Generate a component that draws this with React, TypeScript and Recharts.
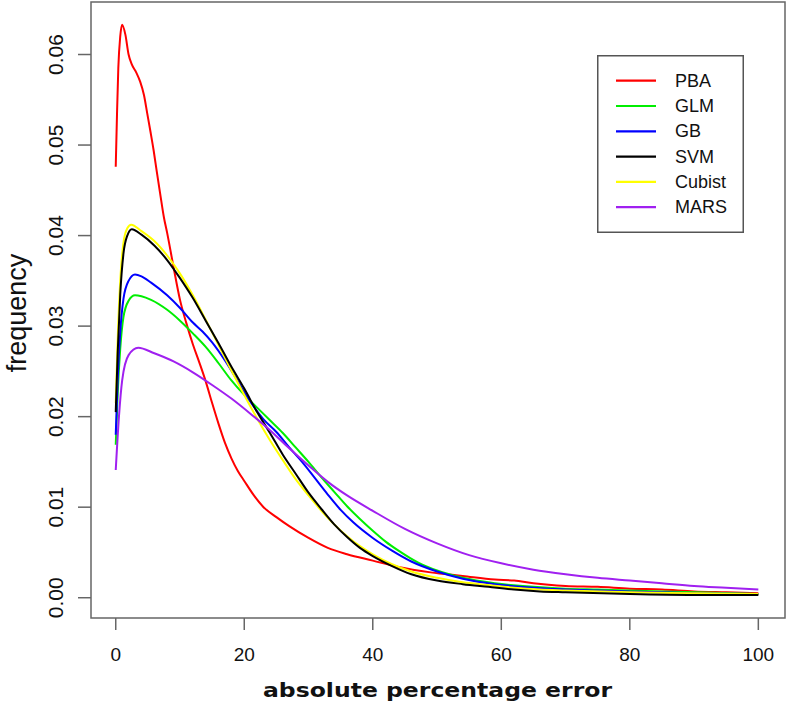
import { LineChart, Line, XAxis, YAxis, ReferenceArea, Legend } from 'recharts';

type Pt = [number, number];

// absolute percentage error (x) vs frequency (y)
const pba: Pt[] = [
  [0, 0.0476], [0.2, 0.0535], [0.4, 0.0585], [0.7, 0.062], [1, 0.0633], [1.5, 0.0622],
  [2, 0.06], [2.5, 0.0589], [3.2, 0.058], [3.8, 0.057], [4.4, 0.0555], [4.9, 0.0535],
  [5.4, 0.0515], [5.9, 0.0494], [6.4, 0.047], [6.9, 0.0447], [7.5, 0.042], [8, 0.0403],
  [9, 0.0365], [10, 0.0329], [11, 0.0303], [12, 0.028], [13, 0.026], [14, 0.0239],
  [15, 0.0215], [16, 0.0192], [17, 0.0171], [18, 0.0154], [19, 0.014], [20, 0.0129],
  [21.5, 0.0113], [23, 0.01], [25, 0.0089], [27, 0.0079], [30, 0.0066], [33, 0.0055],
  [36, 0.0048], [40, 0.0041], [44, 0.0034], [49, 0.0028], [54, 0.0024], [59, 0.002],
  [62, 0.0019], [65, 0.0016], [70, 0.0013], [75, 0.0012], [80, 0.001], [85, 0.0009],
  [90, 0.0007], [95, 0.0006], [100, 0.0005],
];

const glm: Pt[] = [
  [0, 0.0169], [0.3, 0.0225], [0.7, 0.0275], [1.2, 0.031], [2, 0.0328], [3, 0.0334],
  [4, 0.0333], [5.5, 0.0329], [8, 0.0318], [10, 0.0306], [12, 0.0292], [14, 0.0277],
  [16, 0.0259], [18, 0.024], [20, 0.0224], [22, 0.021], [24, 0.0196], [26, 0.0182],
  [28, 0.0166], [30, 0.015], [32, 0.0133], [34, 0.0117], [36, 0.0101], [38, 0.0087],
  [40, 0.0074], [42, 0.0062], [44, 0.0052], [47, 0.0039], [50, 0.003], [54, 0.0022],
  [59, 0.0016], [65, 0.0012], [70, 0.001], [75, 0.0009], [80, 0.0008], [90, 0.0006],
  [100, 0.0004],
];

const gb: Pt[] = [
  [0, 0.018], [0.3, 0.024], [0.7, 0.0293], [1.2, 0.033], [2, 0.035], [3, 0.0357],
  [4, 0.0355], [5.5, 0.0348], [8, 0.0334], [10, 0.032], [12, 0.0304], [13.5, 0.0294],
  [15, 0.0282], [17, 0.0262], [19, 0.0239], [21, 0.0216], [23, 0.0197], [25, 0.0183],
  [27, 0.0166], [29, 0.015], [31, 0.0132], [33, 0.0114], [35, 0.0097], [37, 0.0083],
  [40, 0.0066], [43, 0.0052], [46, 0.004], [50, 0.0029], [54, 0.0021], [59, 0.0015],
  [65, 0.0011], [70, 0.0009], [75, 0.0008], [80, 0.0007], [90, 0.0005], [100, 0.0004],
];

const svm: Pt[] = [
  [0, 0.0205], [0.3, 0.027], [0.7, 0.0335], [1.2, 0.038], [1.8, 0.04], [2.5, 0.0407],
  [4, 0.0401], [6, 0.0389], [8, 0.0373], [10, 0.0353], [12, 0.0331], [14, 0.0306],
  [16, 0.0281], [18, 0.0255], [20, 0.0231], [22, 0.0205], [24, 0.0182], [26, 0.0158],
  [28, 0.0137], [30, 0.0116], [32, 0.0098], [34, 0.0081], [36, 0.0067], [38, 0.0055],
  [40, 0.0046], [43, 0.0035], [46, 0.0026], [50, 0.0019], [54, 0.0015], [58, 0.0012],
  [62, 0.0009], [66, 0.0007], [70, 0.0006], [80, 0.0004], [90, 0.0003], [100, 0.0003],
];

const cubist: Pt[] = [
  [0, 0.0215], [0.3, 0.0285], [0.7, 0.035], [1.2, 0.0392], [1.8, 0.0408], [2.4, 0.0412],
  [4, 0.0405], [6, 0.0394], [8, 0.0378], [10, 0.0358], [12, 0.0334], [14, 0.0307],
  [16, 0.0279], [18, 0.0251], [20, 0.0224], [22, 0.0198], [24, 0.0174], [26, 0.0152],
  [28, 0.0131], [30, 0.0113], [32, 0.0096], [34, 0.0081], [36, 0.0068], [38, 0.0057],
  [40, 0.0048], [43, 0.0037], [46, 0.0029], [50, 0.0022], [54, 0.0017], [58, 0.0014],
  [62, 0.0011], [66, 0.0009], [70, 0.0008], [80, 0.0006], [90, 0.0005], [100, 0.0004],
];

const mars: Pt[] = [
  [0, 0.0141], [0.5, 0.02], [1, 0.024], [2, 0.0268], [3.5, 0.0276], [6, 0.027],
  [9, 0.0261], [12, 0.0249], [15, 0.0235], [18, 0.022], [21, 0.0203], [24, 0.0185],
  [27, 0.0165], [30, 0.0146], [33, 0.0128], [36, 0.0113], [40, 0.0096], [45, 0.0076],
  [50, 0.006], [55, 0.0047], [60, 0.0038], [65, 0.0031], [70, 0.0026], [75, 0.0022],
  [80, 0.0019], [85, 0.0016], [90, 0.0013], [95, 0.0011], [100, 0.0009],
];

const NAMES = ['PBA', 'GLM', 'GB', 'SVM', 'Cubist', 'MARS'];
const SERIES = [pba, glm, gb, svm, cubist, mars];
const COLORS = ['#FF0000', '#00EE00', '#0000FF', '#000000', '#FFFF00', '#A020F0'];
// yellow under black, as in the picture
const DRAW_ORDER = [0, 1, 2, 4, 3, 5];

const X_TICKS = [0, 20, 40, 60, 80, 100];
const Y_TICKS = [0, 0.01, 0.02, 0.03, 0.04, 0.05, 0.06];

const X_DOMAIN: [number, number] = [-3.85, 104.15];
const Y_DOMAIN: [number, number] = [-0.00224, 0.0658];

const FONT = '"Liberation Sans", Arial, sans-serif';
const AXIS_GRAY = '#666';

const YTick = ({ x, y, payload }: any) => {
  const bx = x - 13;
  return (
    <text
      x={bx}
      y={y}
      transform={`rotate(-90, ${bx}, ${y})`}
      textAnchor="middle"
      fontSize={21}
      fontFamily={FONT}
      fill="#111"
    >
      {Number(payload.value).toFixed(2)}
    </text>
  );
};

const LegendBox = () => (
  <svg width={147} height={178} style={{ display: 'block' }}>
    <rect x={0.75} y={0.75} width={145.5} height={176.5} fill="#fff" stroke="#555" strokeWidth={1.5} />
    {NAMES.map((name, i) => {
      const cy = 25.7 + i * 25.3;
      return (
        <g key={name}>
          <line x1={19} x2={59} y1={cy} y2={cy} stroke={COLORS[i]} strokeWidth={2.2} />
          <text x={78} y={cy} dominantBaseline="central" fontSize={18} fontFamily={FONT} fill="#111">
            {name}
          </text>
        </g>
      );
    })}
  </svg>
);

export default function App() {
  return (
    <div style={{ position: 'absolute', left: 0, top: 0, background: '#fff' }}>
      <LineChart width={787} height={704} margin={{ top: 2, right: 2, bottom: 0, left: 0 }}>
        <XAxis
          type="number"
          dataKey="x"
          domain={X_DOMAIN}
          ticks={X_TICKS}
          allowDataOverflow
          axisLine={false}
          tickLine={{ stroke: AXIS_GRAY, strokeWidth: 1.5 }}
          tickSize={12}
          tickMargin={18}
          height={86}
          tick={{ fontSize: 19, fontFamily: FONT, fill: '#111' }}
          label={{
            content: () => (
              <text
                x={437.5}
                y={697}
                textAnchor="middle"
                fontSize={19}
                fontWeight="bold"
                fontFamily='"DejaVu Sans", sans-serif'
                fill="#111"
                textLength={349}
                lengthAdjust="spacingAndGlyphs"
              >
                absolute percentage error
              </text>
            ),
          }}
        />
        <YAxis
          type="number"
          dataKey="y"
          domain={Y_DOMAIN}
          ticks={Y_TICKS}
          allowDataOverflow
          axisLine={false}
          tickLine={{ stroke: AXIS_GRAY, strokeWidth: 1.5 }}
          tickSize={13}
          width={91}
          tick={<YTick />}
          label={{
            content: () => (
              <text
                x={26}
                y={313}
                transform="rotate(-90, 26, 313)"
                textAnchor="middle"
                fontSize={27}
                fontFamily={FONT}
                fill="#111"
              >
                frequency
              </text>
            ),
          }}
        />
        <ReferenceArea
          x1={X_DOMAIN[0]}
          x2={X_DOMAIN[1]}
          y1={Y_DOMAIN[0]}
          y2={Y_DOMAIN[1]}
          fill="none"
          fillOpacity={0}
          stroke={AXIS_GRAY}
          strokeWidth={1.5}
        />
        {DRAW_ORDER.map((i) => (
          <Line
            key={NAMES[i]}
            name={NAMES[i]}
            data={SERIES[i].map(([x, y]) => ({ x, y }))}
            dataKey="y"
            type="monotone"
            stroke={COLORS[i]}
            strokeWidth={2}
            dot={false}
            isAnimationActive={false}
          />
        ))}
        <Legend
          layout="vertical"
          align="center"
          verticalAlign="middle"
          content={() => <LegendBox />}
          wrapperStyle={{ left: 597, top: 55, width: 147, height: 178 }}
        />
      </LineChart>
    </div>
  );
}
